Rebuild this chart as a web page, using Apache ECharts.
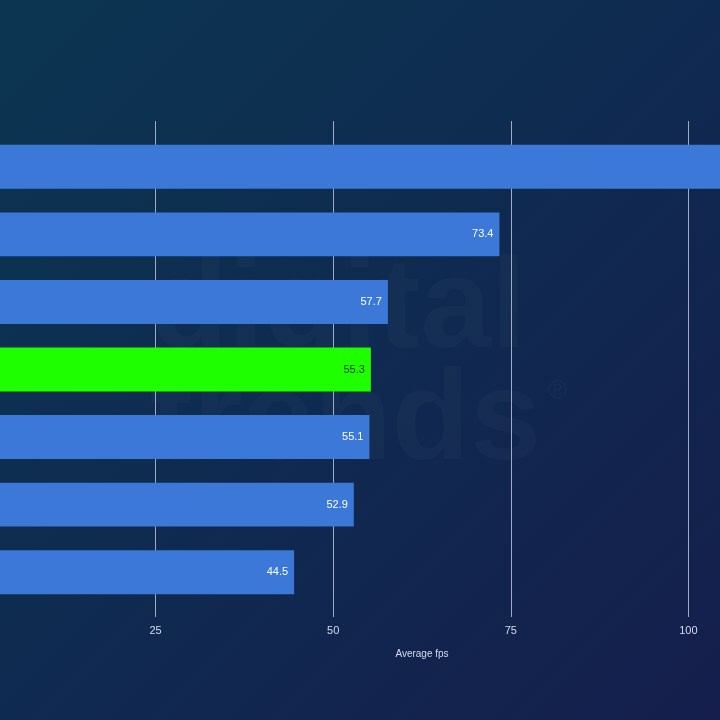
<!DOCTYPE html>
<html>
<head>
<meta charset="utf-8">
<script src="https://cdn.jsdelivr.net/npm/echarts@6/dist/echarts.min.js"></script>
<style>
  html, body { margin: 0; padding: 0; }
  #chart { width: 720px; height: 720px; }
</style>
</head>
<body>
<div id="chart"></div>
<script>
// category names sit off the left edge in the reference, so they are never drawn
const categories = ['Config 1', 'Config 2', 'Config 3', 'Config 4', 'Config 5', 'Config 6', 'Config 7'];
const fps = [112.0, 73.4, 57.7, 55.3, 55.1, 52.9, 44.5];
const highlight = [false, false, false, true, false, false, false];
const xTicks = [0, 25, 50, 75, 100, 125];

const blue = '#3b78d8';
const green = '#1eff00';

const chart = echarts.init(document.getElementById('chart'));

chart.setOption({
  backgroundColor: new echarts.graphic.LinearGradient(0, 0, 1, 1, [
    { offset: 0, color: '#0b3651' },
    { offset: 0.5, color: '#0f2a50' },
    { offset: 1, color: '#151e4c' },
  ]),
  animation: false,
  textStyle: { fontFamily: 'Liberation Sans, Arial, sans-serif' },
  graphic: [{
    type: 'text',
    left: 150,
    top: 248,
    z: 0,
    silent: true,
    style: {
      text: 'digital\ntrends',
      font: 'bold 128px "Liberation Sans", sans-serif',
      lineHeight: 112,
      fill: 'rgba(255,255,255,0.025)',
    },
  }, {
    type: 'text',
    left: 548,
    top: 378,
    z: 0,
    silent: true,
    style: {
      text: '®',
      font: '26px "Liberation Sans", sans-serif',
      fill: 'rgba(255,255,255,0.03)',
    },
  }],
  grid: [
    // grid for the value axis lines / labels
    { left: -22, right: -146, top: 121, bottom: 103, outerBoundsMode: 'none' },
    // grid for the bars
    { left: -22, right: -146, top: 133, bottom: 114, outerBoundsMode: 'none' },
  ],
  xAxis: [{
    gridIndex: 0,
    type: 'value',
    min: xTicks[0],
    max: xTicks[xTicks.length - 1],
    interval: 25,
    name: 'Average fps',
    nameLocation: 'middle',
    nameGap: 32,
    nameTextStyle: { color: '#d6dcec', fontSize: 10 },
    axisLine: { show: false },
    axisTick: { show: false },
    axisLabel: { color: '#d6dcec', fontSize: 11, margin: 8 },
    splitLine: { lineStyle: { color: '#9fabc4', width: 1 } },
  }, {
    gridIndex: 1,
    type: 'value',
    min: xTicks[0],
    max: xTicks[xTicks.length - 1],
    interval: 25,
    show: false,
    splitLine: { show: false },
  }],
  yAxis: [{
    gridIndex: 0,
    type: 'category',
    data: categories,
    show: false,
  }, {
    gridIndex: 1,
    type: 'category',
    data: categories,
    inverse: true,
    axisLine: { show: false },
    axisTick: { show: false },
    axisLabel: { show: false },
  }],
  series: [{
    type: 'bar',
    xAxisIndex: 1,
    yAxisIndex: 1,
    barCategoryGap: '35%',
    z: 3,
    data: fps.map((v, i) => ({
      value: v,
      itemStyle: { color: highlight[i] ? green : blue },
      label: { color: highlight[i] ? '#173a1a' : '#ffffff' },
    })),
    label: {
      show: true,
      position: 'insideRight',
      distance: 6,
      fontSize: 11,
    },
  }],
});
</script>
</body>
</html>
